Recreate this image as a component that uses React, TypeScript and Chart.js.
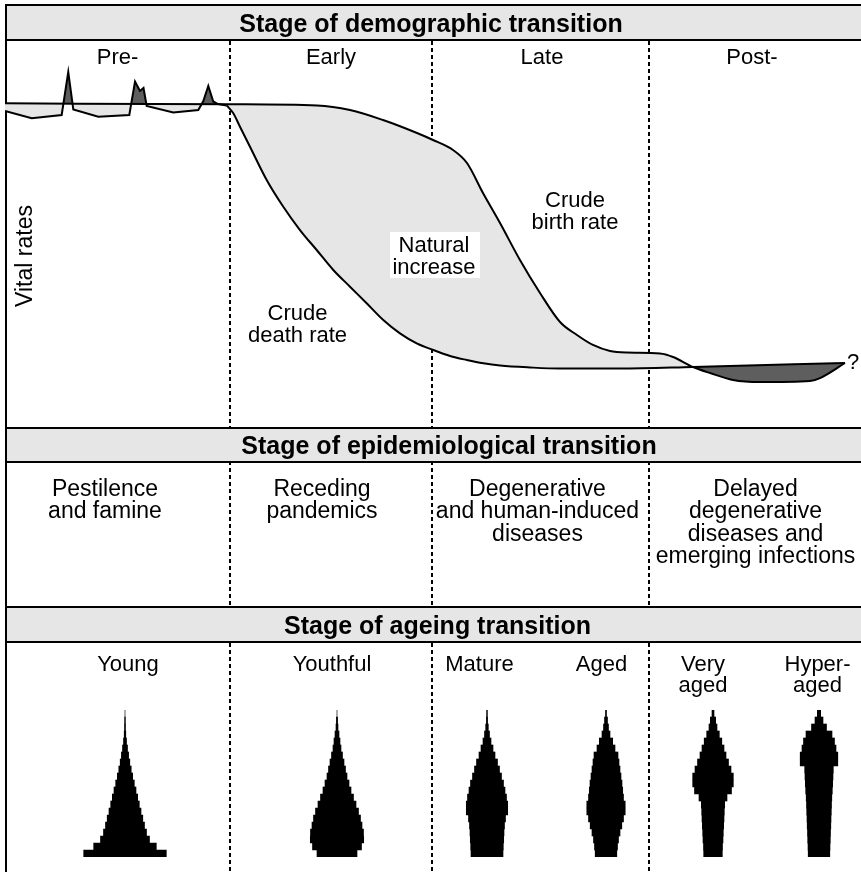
import React, { useEffect, useRef } from 'react';
import { Chart, registerables } from 'chart.js';

Chart.register(...registerables);

// ---------------- data ----------------
// Demographic transition: time (0-100) vs vital rates (per 1000)
const birthTime = [0, 26.29, 36.45, 40.3, 44.16, 48.13, 50.0, 52.34, 53.97, 55.84, 57.83, 60.16, 62.5, 64.84, 66.82, 68.69, 70.68, 72.66, 76.52, 78.04, 80.37, 82.36, 85.05, 88.2, 94.04, 95.21, 98.13];
const birthRate = [33.47, 33.37, 33.25, 32.78, 31.75, 30.41, 29.69, 28.66, 27.32, 24.23, 21.13, 17.32, 13.92, 10.93, 9.59, 8.56, 7.94, 7.78, 7.68, 7.32, 6.29, 5.67, 4.95, 4.74, 4.85, 5.15, 6.7];

const deathPreTime = [0, 3.12, 6.62, 7.39, 7.98, 10.9, 14.52, 15.19, 15.77, 16.18, 16.55, 19.66, 22.58, 23.17, 23.75, 24.33, 24.88, 25.9];
const deathPreRate = [32.68, 31.93, 32.27, 36.7, 32.84, 32.09, 32.27, 35.72, 34.74, 35.05, 33.2, 32.53, 32.78, 33.71, 35.26, 33.66, 33.4, 33.25];

const deathTime = [25.9, 26.67, 27.45, 28.62, 30.57, 32.51, 34.46, 36.41, 38.35, 40.3, 42.25, 44.19, 46.14, 48.1, 50.03, 51.99, 53.94, 55.88, 57.83, 61.33, 64.84, 71.85, 80.37, 98.13];
const deathRate = [33.25, 32.44, 31.06, 29.0, 25.57, 22.81, 20.41, 18.35, 16.29, 14.57, 12.86, 11.13, 9.76, 8.73, 8.04, 7.42, 7.01, 6.67, 6.44, 6.24, 6.13, 6.13, 6.29, 6.7];

// Population pyramids: share of population per sex (%) by 5-year age group
const ageGroups = ['0-4', '5-9', '10-14', '15-19', '20-24', '25-29', '30-34', '35-39', '40-44', '45-49', '50-54', '55-59', '60-64', '65-69', '70-74', '75-79', '80-84', '85-89', '90-94', '95-99', '100+'];
const youngPop = [4.13, 3.13, 2.45, 2.15, 1.95, 1.78, 1.6, 1.43, 1.27, 1.1, 0.93, 0.77, 0.62, 0.48, 0.36, 0.25, 0.15, 0.08, 0.05, 0.04, 0];
const youthfulPop = [2.0, 2.45, 2.67, 2.65, 2.5, 2.35, 2.15, 1.9, 1.65, 1.4, 1.2, 1.0, 0.85, 0.7, 0.55, 0.4, 0.3, 0.2, 0.1, 0.06, 0];
const maturePop = [1.6, 1.63, 1.67, 1.7, 1.75, 1.85, 2.07, 2.07, 1.95, 1.8, 1.65, 1.45, 1.25, 1.05, 0.8, 0.6, 0.4, 0.25, 0.13, 0.06, 0.04];
const agedPop = [1.08, 1.15, 1.25, 1.4, 1.58, 1.75, 1.92, 1.92, 1.75, 1.67, 1.6, 1.5, 1.4, 1.3, 1.2, 0.9, 0.67, 0.4, 0.25, 0.15, 0.05];
const veryAgedPop = [0.93, 0.95, 1.0, 1.03, 1.07, 1.1, 1.13, 1.17, 1.4, 1.85, 2.03, 2.03, 1.8, 1.55, 1.3, 1.1, 0.88, 0.63, 0.4, 0.27, 0.1];
const hyperAgedPop = [1.08, 1.1, 1.13, 1.15, 1.18, 1.2, 1.23, 1.25, 1.28, 1.33, 1.37, 1.4, 1.43, 1.88, 1.88, 1.7, 1.55, 1.3, 0.75, 0.4, 0.17];

// Text labels
const demoTitle = 'Stage of demographic transition';
const epiTitle = 'Stage of epidemiological transition';
const ageTitle = 'Stage of ageing transition';
const demoStages = ['Pre-', 'Early', 'Late', 'Post-'];
const epiStages = [
  ['Pestilence', 'and famine'],
  ['Receding', 'pandemics'],
  ['Degenerative', 'and human-induced', 'diseases'],
  ['Delayed', 'degenerative', 'diseases and', 'emerging infections'],
];
const ageStages = [['Young'], ['Youthful'], ['Mature'], ['Aged'], ['Very', 'aged'], ['Hyper-', 'aged']];

// ---------------- layout / style ----------------
const W = 861;
const H = 872;
const FONT = "'Liberation Sans', Arial, Helvetica, sans-serif";
const LIGHT = '#e6e6e6';
const DARK = '#5e5e5e';
const DIVIDERS = [230, 432, 649];
const HEADERS = [
  { top: 5, bottom: 40, title: demoTitle, cx: 431 },
  { top: 428, bottom: 462, title: epiTitle, cx: 449 },
  { top: 607, bottom: 642, title: ageTitle, cx: 437.5 },
];
const STAGE_X = [117.5, 331, 542, 752];
const EPI_X = [105, 322, 537.5, 755.5];
const AGE_X = [128, 332, 479.5, 601.5, 703, 817.5];
const PYR_LEFT = [75, 287, 437, 556, 663, 769];
const pyramids = [youngPop, youthfulPop, maturePop, agedPop, veryAgedPop, hyperAgedPop];

const toXY = (xs: number[], ys: number[]) => xs.map((x, i) => ({ x, y: ys[i] }));

const framePlugin = {
  id: 'frame',
  beforeDatasetsDraw(chart: any) {
    const ctx = chart.ctx as CanvasRenderingContext2D;
    ctx.save();
    // dashed stage dividers
    ctx.strokeStyle = '#000';
    ctx.lineWidth = 2;
    ctx.setLineDash([4, 3]);
    for (const x of DIVIDERS) {
      ctx.beginPath();
      ctx.moveTo(x, 41);
      ctx.lineTo(x, H);
      ctx.stroke();
    }
    ctx.setLineDash([]);
    // header bars
    for (const h of HEADERS) {
      ctx.fillStyle = LIGHT;
      ctx.fillRect(6, h.top, W, h.bottom - h.top);
      ctx.strokeStyle = '#000';
      ctx.lineWidth = 2;
      ctx.beginPath();
      ctx.moveTo(5, h.top);
      ctx.lineTo(W, h.top);
      ctx.moveTo(5, h.bottom);
      ctx.lineTo(W, h.bottom);
      ctx.stroke();
    }
    // left frame
    ctx.beginPath();
    ctx.moveTo(6, 4);
    ctx.lineTo(6, H);
    ctx.stroke();
    ctx.restore();
  },
  afterDatasetsDraw(chart: any) {
    const ctx = chart.ctx as CanvasRenderingContext2D;
    ctx.save();
    ctx.fillStyle = '#000';
    ctx.textAlign = 'center';
    ctx.textBaseline = 'alphabetic';
    // header titles
    ctx.font = `bold 25px ${FONT}`;
    for (const h of HEADERS) {
      ctx.fillText(h.title, h.cx, (h.top + h.bottom) / 2 + 9);
    }
    // demographic stage names
    ctx.font = `22px ${FONT}`;
    demoStages.forEach((s, i) => ctx.fillText(s, STAGE_X[i], 64));
    // epidemiological stage texts
    ctx.font = `23px ${FONT}`;
    epiStages.forEach((lines, i) => {
      lines.forEach((l, j) => ctx.fillText(l, EPI_X[i], 495.5 + j * 22.5));
    });
    // ageing stage names
    ctx.font = `22px ${FONT}`;
    ageStages.forEach((lines, i) => {
      lines.forEach((l, j) => ctx.fillText(l, AGE_X[i], 671 + j * 20.5));
    });
    // annotations in the top panel
    ctx.fillStyle = '#fff';
    ctx.fillRect(390, 232, 90, 46);
    ctx.fillStyle = '#000';
    ctx.font = `22px ${FONT}`;
    ctx.fillText('Natural', 434, 252);
    ctx.fillText('increase', 434, 273.5);
    ctx.fillText('Crude', 297.5, 320);
    ctx.fillText('death rate', 297.5, 342);
    ctx.fillText('Crude', 575, 207);
    ctx.fillText('birth rate', 575, 229);
    ctx.fillText('?', 853, 369);
    // y axis title
    ctx.save();
    ctx.translate(26, 256);
    ctx.rotate(-Math.PI / 2);
    ctx.textBaseline = 'middle';
    ctx.font = `23px ${FONT}`;
    ctx.fillText('Vital rates', 0, 0);
    ctx.restore();
    ctx.restore();
  },
};

function Pyramid({ values, left, label }: { values: number[]; left: number; label: string }) {
  const ref = useRef<HTMLCanvasElement>(null);
  useEffect(() => {
    const chart = new Chart(ref.current as HTMLCanvasElement, {
      type: 'bar',
      data: {
        labels: ageGroups,
        datasets: [
          {
            label,
            data: values.map((v) => [-v, v]) as any,
            backgroundColor: '#000',
            borderWidth: 0,
            barPercentage: 1,
            categoryPercentage: 1,
          },
        ],
      },
      options: {
        indexAxis: 'y',
        animation: false,
        responsive: false,
        devicePixelRatio: 1,
        layout: { padding: 0 },
        scales: {
          x: { type: 'linear', min: -5, max: 5, display: false },
          y: { display: false, reverse: true },
        },
        plugins: { legend: { display: false }, tooltip: { enabled: false } },
      },
    });
    return () => chart.destroy();
  }, []);
  return (
    <canvas
      ref={ref}
      width={100}
      height={147}
      style={{ position: 'absolute', left, top: 710, width: 100, height: 147 }}
    />
  );
}

export default function App() {
  const ref = useRef<HTMLCanvasElement>(null);
  useEffect(() => {
    const chart = new Chart(ref.current as HTMLCanvasElement, {
      type: 'line',
      data: {
        datasets: [
          {
            label: 'Crude birth rate',
            data: toXY(birthTime, birthRate),
            borderColor: '#000',
            borderWidth: 2,
            pointRadius: 0,
            cubicInterpolationMode: 'monotone',
            fill: false,
          },
          {
            label: 'Crude death rate (pre-transition)',
            data: toXY(deathPreTime, deathPreRate),
            borderColor: '#000',
            borderWidth: 2,
            pointRadius: 0,
            tension: 0,
            fill: { target: 0, above: DARK, below: LIGHT },
          },
          {
            label: 'Crude death rate',
            data: toXY(deathTime, deathRate),
            borderColor: '#000',
            borderWidth: 2,
            pointRadius: 0,
            cubicInterpolationMode: 'monotone',
            fill: { target: 0, above: DARK, below: LIGHT },
          },
        ],
      },
      options: {
        animation: false,
        responsive: false,
        devicePixelRatio: 1,
        layout: { padding: { left: 5, top: 40, right: 0, bottom: H - 428 } },
        scales: {
          x: { type: 'linear', min: 0, max: 100, display: false },
          y: { type: 'linear', min: 0, max: 40, display: false },
        },
        plugins: { legend: { display: false }, tooltip: { enabled: false } },
      },
      plugins: [framePlugin],
    });
    return () => chart.destroy();
  }, []);

  return (
    <div style={{ position: 'absolute', left: 0, top: 0, width: W, height: H, background: '#fff', overflow: 'hidden' }}>
      <canvas ref={ref} width={W} height={H} style={{ position: 'absolute', left: 0, top: 0, width: W, height: H }} />
      {pyramids.map((p, i) => (
        <Pyramid key={i} values={p} left={PYR_LEFT[i]} label={ageStages[i].join(' ')} />
      ))}
    </div>
  );
}
